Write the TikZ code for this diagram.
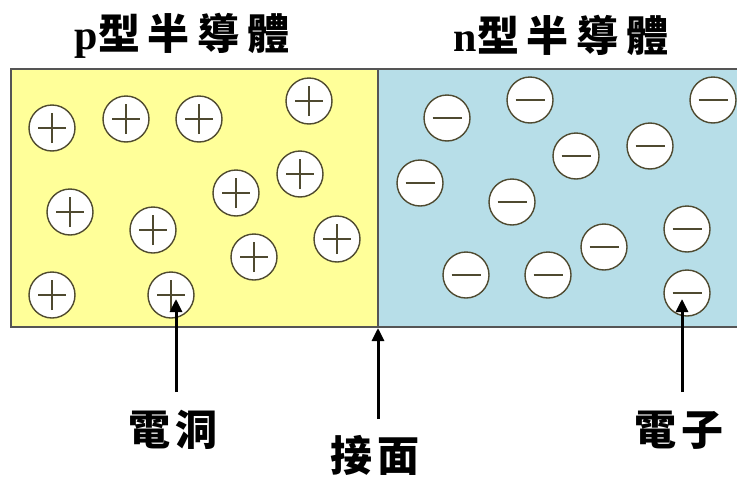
\documentclass[tikz,border=0pt]{standalone}
\usepackage{fontspec}
\usepackage{tikz}
\usepackage{xcolor}
\usetikzlibrary{arrows.meta}

\newfontfamily\cjk[LetterSpace=18]{Noto Sans CJK TC}
\newfontfamily\cjktag[LetterSpace=14]{Noto Sans CJK TC}
\newfontfamily\latn{Liberation Serif}

\definecolor{ptype}{HTML}{FFFF99}
\definecolor{ntype}{HTML}{B7DEE8}
\definecolor{rim}{HTML}{4F4A30}
\definecolor{edge}{HTML}{555555}

\tikzset{
    carrier/.style={circle, draw=rim, line width=1.4pt, fill=white, minimum size=46pt, inner sep=0pt},
    hole/.style={carrier, path picture={
        \draw[line width=1.1pt] ([xshift=-14pt]path picture bounding box.center) -- ([xshift=14pt]path picture bounding box.center)
            ([yshift=-15pt]path picture bounding box.center) -- ([yshift=15pt]path picture bounding box.center);}},
    electron/.style={carrier, path picture={
        \draw[line width=1.2pt] ([xshift=-14.5pt]path picture bounding box.center) -- ([xshift=14.5pt]path picture bounding box.center);}},
    heading/.style={font=\fontsize{42}{44}\selectfont\bfseries, inner sep=0pt},
    tag/.style={font=\cjktag\fontsize{42}{44}\selectfont\bfseries, inner sep=0pt},
    pointer/.style={-{Triangle[length=13pt,width=12pt]}, line width=3pt}
}

\begin{document}
\begin{tikzpicture}[x=1pt, y=-1pt]
        \useasboundingbox[fill=white] (0,0) rectangle (737,477);

        % the two halves
        \draw[draw=edge, line width=1.4pt, fill=ptype] (11,69) rectangle (378,327);
        \draw[draw=edge, line width=1.4pt, fill=ntype] (378,69) rectangle (760,327);

        \node[heading] (ptitle) at (182,36) {{\latn p}{\cjk 型半導體}};
        \node[heading] (ntitle) at (561,35) {{\latn n}{\cjk 型半導體}};

        % holes
        \node[hole] (h1) at (52,128) {};
        \node[hole] (h2) at (126,119) {};
        \node[hole] (h3) at (199,119) {};
        \node[hole] (h4) at (309,101) {};
        \node[hole] (h5) at (300,174) {};
        \node[hole] (h6) at (236,193) {};
        \node[hole] (h7) at (70,212) {};
        \node[hole] (h8) at (153,230) {};
        \node[hole] (h9) at (254,257) {};
        \node[hole] (h10) at (337,239) {};
        \node[hole] (h11) at (52,295) {};
        \node[hole] (h12) at (171,295) {};

        % electrons
        \node[electron] (e1) at (447,118) {};
        \node[electron] (e2) at (530,100) {};
        \node[electron] (e3) at (713,100) {};
        \node[electron] (e4) at (576,156) {};
        \node[electron] (e5) at (650,146) {};
        \node[electron] (e6) at (420,183) {};
        \node[electron] (e7) at (512,202) {};
        \node[electron] (e8) at (687,229) {};
        \node[electron] (e9) at (604,247) {};
        \node[electron] (e10) at (466,275) {};
        \node[electron] (e11) at (548,275) {};
        \node[electron] (e12) at (687,293) {};

        % labels
        \node[tag] (lhole) at (173,430) {電洞};
        \node[tag] (ljunc) at (375,455) {接面};
        \node[tag] (lelec) at (679,430) {電子};

        \coordinate (holetail) at (176,392);
        \coordinate (holetip) at (176,299);
        \coordinate (junctail) at (378,419);
        \coordinate (junctip) at (378,328);
        \coordinate (electail) at (682,392);
        \coordinate (electip) at (682,299);

        \draw[pointer] (holetail) to (holetip);
        \draw[pointer] (junctail) to (junctip);
        \draw[pointer] (electail) to (electip);
    \end{tikzpicture}
\end{document}
